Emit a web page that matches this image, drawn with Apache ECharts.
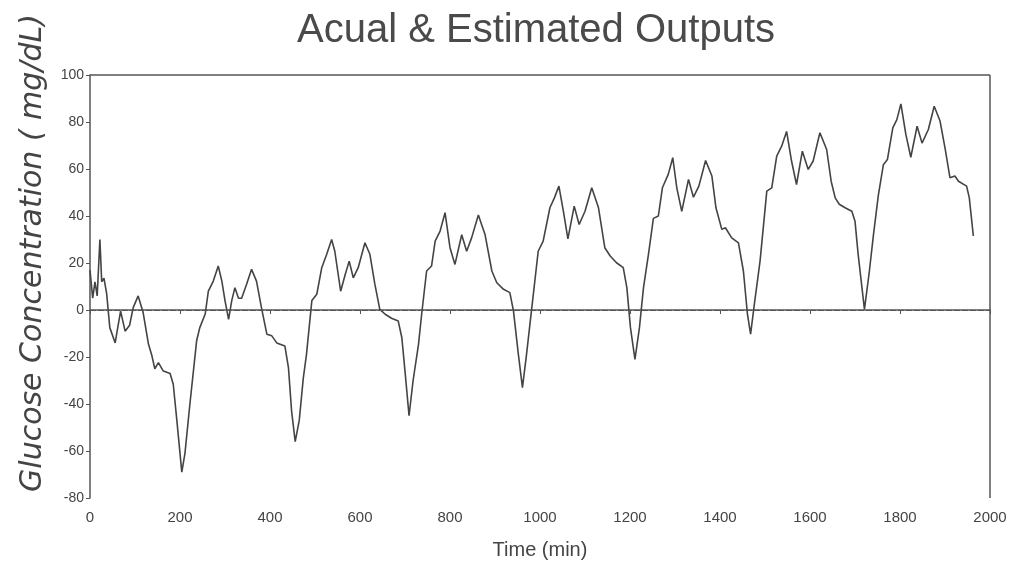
<!DOCTYPE html>
<html>
<head>
<meta charset="utf-8">
<script src="https://cdn.jsdelivr.net/npm/echarts@6/dist/echarts.min.js"></script>
<style>
  html, body { margin: 0; padding: 0; background: #fff; }
  #chart { width: 1025px; height: 568px; }
</style>
</head>
<body>
<div id="chart"></div>
<script>
// time in minutes
var times = [0, 6, 11, 16, 22, 26, 31, 37, 44, 56, 59, 68, 78, 88, 96, 107, 118, 130, 137, 144, 152, 163, 178, 185, 193, 204, 211, 222, 237, 244, 256, 263, 274, 285, 293, 300, 308, 315, 322, 330, 337, 348, 359, 370, 381, 393, 404, 415, 433, 441, 448, 456, 465, 474, 481, 493, 504, 515, 526, 537, 544, 557, 567, 576, 585, 596, 611, 622, 633, 644, 656, 670, 685, 693, 700, 709, 718, 730, 737, 748, 759, 767, 778, 789, 800, 811, 826, 837, 848, 863, 878, 893, 904, 919, 933, 941, 952, 961, 970, 981, 996, 1007, 1022, 1032, 1042, 1052, 1062, 1076, 1087, 1100, 1115, 1130, 1144, 1156, 1170, 1185, 1193, 1201, 1211, 1221, 1230, 1241, 1252, 1263, 1272, 1285, 1295, 1304, 1315, 1330, 1341, 1353, 1368, 1382, 1391, 1404, 1412, 1426, 1441, 1452, 1461, 1468, 1476, 1489, 1504, 1515, 1526, 1537, 1548, 1559, 1570, 1583, 1596, 1607, 1622, 1637, 1647, 1656, 1665, 1678, 1693, 1700, 1707, 1721, 1732, 1741, 1752, 1763, 1772, 1784, 1793, 1802, 1813, 1824, 1838, 1849, 1863, 1876, 1889, 1900, 1911, 1922, 1930, 1948, 1954, 1963];
// glucose concentration, mg/dL
var glucose = [17, 5, 12, 6, 30, 12, 13.6, 7, -7.5, -14, -10.5, -0.5, -9, -6.5, 1, 6, -1, -14.6, -19, -25, -22.4, -26, -27, -31.6, -47, -69, -61, -40, -13, -7.5, -1.7, 8, 12.3, 18.7, 12.3, 4, -4, 4, 9.5, 5, 5, 11, 17.3, 12.3, 1, -10.3, -11, -14, -15.3, -24.5, -43, -56, -47, -29, -19, 4, 6.7, 18, 23.7, 30, 25, 8, 15, 20.8, 13.7, 18, 28.6, 23.7, 11, 0.3, -1.8, -3.5, -4.7, -11.8, -26, -45, -30, -14.6, -1.8, 16.6, 18.7, 29.3, 33.6, 41.4, 26.5, 19.4, 32, 25, 30.7, 40.4, 32, 16.6, 11.6, 8.8, 7.4, -0.4, -19, -33, -19, -0.4, 25, 29.3, 43.5, 47.7, 52.7, 42, 30.3, 44.2, 36.4, 42, 52, 43.5, 26.5, 23, 20.1, 18, 9.5, -7.5, -21, -7.5, 9.5, 23.7, 39, 40, 52, 57.7, 64.8, 52, 42, 55.6, 48, 52.7, 63.6, 57, 43.5, 34.3, 35, 30.7, 28.6, 16.6, -1.8, -10.3, 2, 20.8, 50.6, 52, 65.5, 69.7, 76, 63.4, 53.4, 67.6, 59.8, 63.4, 75.4, 68.3, 54.8, 47.7, 45, 43.5, 42, 37.8, 23.7, 0.3, 16.6, 32, 49, 61.8, 64, 77.5, 81, 87.7, 74.7, 65, 78.2, 71, 76.8, 86.7, 80.4, 69, 56.3, 57, 54.8, 52.7, 47.7, 31.5];

var xTicks = [0, 200, 400, 600, 800, 1000, 1200, 1400, 1600, 1800, 2000];
var yTicks = [-80, -60, -40, -20, 0, 20, 40, 60, 80, 100];

var points = [];
for (var i = 0; i < times.length; i++) {
  points.push([times[i], glucose[i]]);
}

var myChart = echarts.init(document.getElementById("chart"));
myChart.setOption({
  backgroundColor: "#fff",
  animation: false,
  title: {
    text: "Acual & Estimated Outputs",
    left: 531,
    textAlign: "center",
    top: 6,
    textStyle: {
      fontFamily: "Liberation Sans",
      fontSize: 40,
      fontWeight: "normal",
      color: "#4a4a4a"
    }
  },
  // y axis title, hand lettered in the original
  graphic: [
    {
      type: "text",
      x: 33,
      y: 253,
      rotation: Math.PI / 2,
      style: {
        text: "Glucose Concentration ( mg/dL)",
        font: "italic 30px 'DejaVu Sans'",
        fill: "#444",
        textAlign: "center",
        textVerticalAlign: "middle"
      }
    }
  ],
  grid: {
    left: 90,
    right: 35,
    top: 75,
    bottom: 70,
    outerBoundsMode: "none"
  },
  xAxis: {
    type: "value",
    min: xTicks[0],
    max: xTicks[xTicks.length - 1],
    interval: 200,
    name: "Time (min)",
    nameLocation: "middle",
    nameGap: 42,
    nameTextStyle: {
      fontFamily: "Liberation Sans",
      fontSize: 20,
      color: "#444"
    },
    axisLine: { lineStyle: { color: "#555", width: 1.5 } },
    axisTick: { length: 4, lineStyle: { color: "#555" } },
    axisLabel: {
      fontFamily: "Liberation Sans",
      fontSize: 15,
      color: "#444",
      margin: 12,
      formatter: function (v) { return String(v); }
    },
    splitLine: { show: false }
  },
  yAxis: {
    type: "value",
    min: yTicks[0],
    max: yTicks[yTicks.length - 1],
    interval: 20,
    axisLine: { lineStyle: { color: "#555", width: 1.5 } },
    axisTick: { length: 4, lineStyle: { color: "#555" } },
    axisLabel: {
      fontFamily: "Liberation Sans",
      fontSize: 14,
      color: "#444",
      margin: 6
    },
    splitLine: { show: false }
  },
  series: [
    {
      type: "line",
      data: points,
      symbol: "none",
      lineStyle: { color: "#444", width: 1.6 },
      markLine: {
        silent: true,
        symbol: "none",
        label: { show: false },
        lineStyle: { color: "#555", type: [6, 2], width: 1.2 },
        data: [{ yAxis: 0 }]
      }
    },
    {
      // frame top and right
      type: "line",
      data: [],
      markLine: {
        silent: true,
        symbol: "none",
        label: { show: false },
        lineStyle: { color: "#555", type: "solid", width: 1.5 },
        data: [{ yAxis: 100 }, { xAxis: 2000 }]
      }
    }
  ]
});
</script>
</body>
</html>
